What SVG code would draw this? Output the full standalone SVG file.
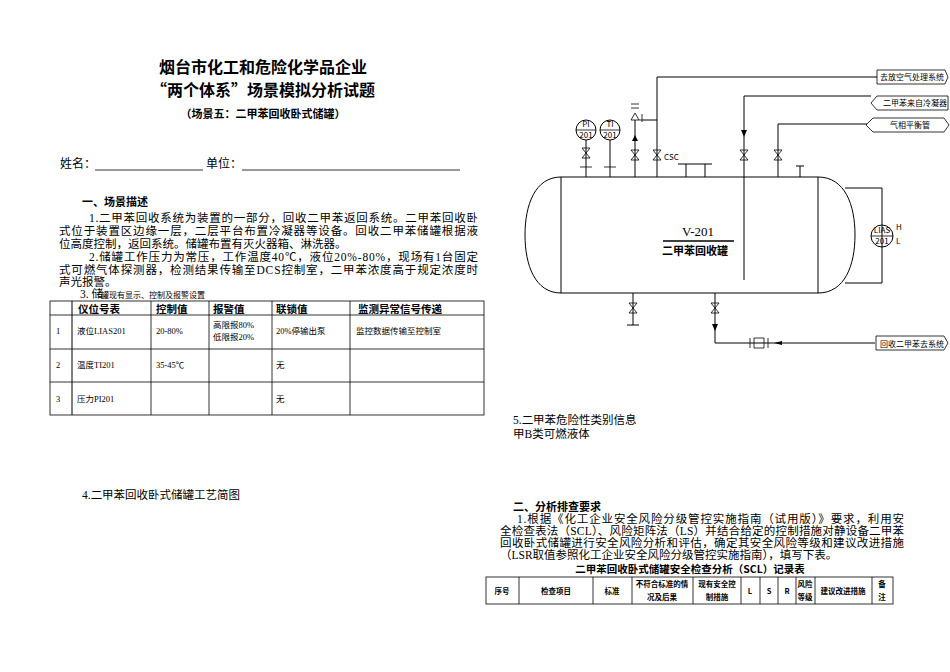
<svg xmlns="http://www.w3.org/2000/svg" width="950" height="672" viewBox="0 0 950 672">
<style>
text{font-family:"Liberation Serif","Noto Sans CJK SC",serif;fill:#000}
.h{font-family:"Noto Sans CJK SC",sans-serif;font-weight:bold}
.b{font-size:11.5px}
.s{font-size:8px}
.l{stroke:#000;fill:none;stroke-width:1}
.t{stroke:#000;fill:none;stroke-width:0.8}
.d{font-family:"Noto Sans CJK SC",sans-serif;font-size:8px}
</style>
<rect width="950" height="672" fill="#fff"/>
<g id="header">
<text class="h" x="263" y="73" font-size="16" text-anchor="middle">烟台市化工和危险化学品企业</text>
<text class="h" x="263" y="96" font-size="16" text-anchor="middle">“两个体系”场景模拟分析试题</text>
<text class="h" x="263" y="118" font-size="11" text-anchor="middle">（场景五：二甲苯回收卧式储罐）</text>
<text x="60" y="168" font-size="12">姓名：</text>
<line class="t" x1="95" y1="170" x2="203" y2="170"/>
<text x="206" y="168" font-size="12">单位：</text>
<line class="t" x1="242" y1="170" x2="460" y2="170"/>
</g>
<g id="sec1">
<text class="h" x="82" y="206" font-size="11">一、场景描述</text>
<text class="b" x="89" y="222" textLength="389" lengthAdjust="spacing">1.二甲苯回收系统为装置的一部分，回收二甲苯返回系统。二甲苯回收卧</text>
<text class="b" x="59" y="235" textLength="419" lengthAdjust="spacing">式位于装置区边缘一层，二层平台布置冷凝器等设备。回收二甲苯储罐根据液</text>
<text class="b" x="59" y="248">位高度控制，返回系统。储罐布置有灭火器箱、淋洗器。</text>
<text class="b" x="89" y="261" textLength="389" lengthAdjust="spacing">2.储罐工作压力为常压，工作温度40℃，液位20%-80%，现场有1台固定</text>
<text class="b" x="59" y="274" textLength="419" lengthAdjust="spacing">式可燃气体探测器，检测结果传输至DCS控制室，二甲苯浓度高于规定浓度时</text>
<text class="b" x="59" y="286">声光报警。</text>
<text class="b" x="80" y="298">3. 储</text>
<text class="s" x="101" y="298">罐现有显示、控制及报警设置</text>
</g>
<g id="table1">
<rect class="t" x="50" y="301" width="434" height="114"/>
<line class="t" x1="50" y1="315" x2="484" y2="315"/>
<line class="t" x1="50" y1="349" x2="484" y2="349"/>
<line class="t" x1="50" y1="382" x2="484" y2="382"/>
<line class="l" x1="72" y1="301" x2="72" y2="415" stroke="#999" stroke-width="1.5"/>
<line class="t" x1="151" y1="301" x2="151" y2="415"/>
<line class="t" x1="209" y1="301" x2="209" y2="415"/>
<line class="t" x1="272" y1="301" x2="272" y2="415"/>
<line class="t" x1="350" y1="301" x2="350" y2="415"/>
<g font-size="10.5"><text class="h" x="78" y="313" font-size="10.5">仪位号表</text><text class="h" x="156" y="313" font-size="10.5">控制值</text><text class="h" x="213" y="313" font-size="10.5">报警值</text><text class="h" x="276" y="313" font-size="10.5">联锁值</text><text class="h" x="358" y="313" font-size="10.5">监测异常信号传递</text></g>
<g font-size="8.5"><text x="56" y="334">1</text><text x="77" y="334">液位LIAS201</text><text x="156" y="334">20-80%</text><text x="213" y="328">高限报80%</text><text x="213" y="340">低限报20%</text><text x="276" y="334">20%停输出泵</text><text x="356" y="334">监控数据传输至控制室</text>
<text x="56" y="368">2</text><text x="77" y="368">温度TI201</text><text x="156" y="368">35-45℃</text><text x="276" y="368">无</text>
<text x="56" y="402">3</text><text x="77" y="402">压力PI201</text><text x="276" y="402">无</text></g>
</g>
<g id="flowlabel"><text class="b" x="82" y="499">4.二甲苯回收卧式储罐工艺简图</text></g>
<g id="tank">
<path class="l" d="M561 177 H818 C845 177 855 205 855 235 C855 265 845 293 818 293 H561 C535 293 525 265 525 235 C525 205 535 177 561 177 Z"/>
<line class="l" x1="561" y1="177" x2="561" y2="293"/>
<line class="l" x1="818" y1="177" x2="818" y2="293"/>
<text x="682" y="236" font-family="Liberation Sans,sans-serif" font-size="13" fill="#555">V-201</text>
<line x1="663" y1="241" x2="734" y2="241" stroke="#000" stroke-width="1.5"/>
<text class="h" x="662" y="255" font-size="11">二甲苯回收罐</text>
</g>
<g id="instruments">
<line class="l" x1="586" y1="140" x2="586" y2="177"/><circle class="l" cx="586" cy="130" r="10"/><line class="t" x1="576" y1="130" x2="596" y2="130"/><text class="d" x="586" y="127" text-anchor="middle" font-size="5">PI</text><text class="d" x="586" y="138" text-anchor="middle" font-size="5">201</text>
<line class="l" x1="610" y1="140" x2="610" y2="177"/><circle class="l" cx="610" cy="130" r="10"/><line class="t" x1="600" y1="130" x2="620" y2="130"/><text class="d" x="610" y="127" text-anchor="middle" font-size="5">TI</text><text class="d" x="610" y="138" text-anchor="middle" font-size="5">201</text>
<line class="l" x1="882" y1="188" x2="882" y2="283"/><line class="l" x1="845" y1="188" x2="882" y2="188"/><line class="l" x1="845" y1="283" x2="882" y2="283"/>
<circle class="l" cx="882" cy="236" r="11" fill="#fff"/><line class="t" x1="871" y1="236" x2="893" y2="236"/><text class="d" x="882" y="233" text-anchor="middle" font-size="5">LIAS</text><text class="d" x="882" y="244" text-anchor="middle" font-size="5">201</text>
<text class="d" x="896" y="230" font-size="6">H</text><text class="d" x="896" y="244" font-size="6">L</text>
</g>
<g id="nozzles">
<g class="t"><path d="M582 148 L590 148 L582 158 L590 158 Z M580 167 H592"/><path d="M604 167 H616"/>
<path d="M631 150 L639 150 L631 160 L639 160 Z"/><path d="M653 150 L661 150 L653 160 L661 160 Z"/>
<path d="M740 150 L748 150 L740 160 L748 160 Z"/><path d="M774 150 L782 150 L774 160 L782 160 Z"/>
<path d="M629 303 L637 303 L629 313 L637 313 Z"/><path d="M711 303 L719 303 L711 313 L719 313 Z"/></g>
<line class="l" x1="635" y1="120" x2="635" y2="177"/><path class="t" d="M631 120 L639 120 L635 113 Z M639 120 L643 120 M642 114 V122 M631 108 H639 M631 104 H639"/>
<path d="M635 135 l-3 6 h6 z" fill="#000"/>
<line class="l" x1="657" y1="77" x2="657" y2="177"/><line class="l" x1="643" y1="120" x2="657" y2="120"/>
<text class="d" x="664" y="160" font-size="6">CSC</text>
<path class="l" d="M686 177 V164 M705 177 V164 M678 164 H712"/>
<line class="l" x1="744" y1="96" x2="744" y2="280"/><path d="M741 130 l3 7 3-7 z" fill="#000"/>
<line class="l" x1="778" y1="124" x2="778" y2="177"/>
<path class="l" d="M800 177 V166 M796 166 H804"/>
<path class="l" d="M633 293 V325 M627 325 H639"/>
<line class="l" x1="715" y1="293" x2="715" y2="343"/><path d="M712 324 l3 7 3-7 z" fill="#000"/>
</g>
<g id="connectors">
<path class="l" d="M657 77 H877 M744 96 H871 M778 124 H867 M715 343 H875"/>
<path class="t" d="M750 338 V348 M754 338 V348 M754 338 H764 V348 H754 M768 338 V348"/>
<path d="M774 343 l8 -2 v4 z" fill="#000"/>
</g>
<g id="labels">
<path class="t" d="M877 70 H945 L948 77 L945 84 H877 Z"/><text class="d" x="880" y="80" font-size="7.5">去放空气处理系统</text>
<path class="t" d="M877 96 L871 103 L877 110 H948 V96 Z"/><text class="d" x="883" y="106" font-size="7.5">二甲苯来自冷凝器</text>
<path class="t" d="M873 118 L866 125 L873 132 H944 L949 125 L944 118 Z"/><text class="d" x="890" y="128" font-size="7.5">气相平衡管</text>
<path class="t" d="M876 336 H944 L948 343 L944 350 H876 Z"/><text class="d" x="880" y="347" font-size="7.5">回收二甲苯去系统</text>
</g>
<g id="sec5">
<text class="b" x="513" y="424">5.二甲苯危险性类别信息</text>
<text class="b" x="513" y="438">甲B类可燃液体</text>
</g>
<g id="sec2">
<text class="h" x="513" y="511" font-size="11">二、分析排查要求</text>
<text class="b" x="517" y="523" textLength="387" lengthAdjust="spacing">1.根据《化工企业安全风险分级管控实施指南（试用版）》要求，利用安</text>
<text class="b" x="500" y="535" textLength="404" lengthAdjust="spacing">全检查表法（SCL）、风险矩阵法（LS）并结合给定的控制措施对静设备二甲苯</text>
<text class="b" x="500" y="547" textLength="404" lengthAdjust="spacing">回收卧式储罐进行安全风险分析和评估，确定其安全风险等级和建议改进措施</text>
<text class="b" x="500" y="559">（LSR取值参照化工企业安全风险分级管控实施指南），填写下表。</text>
<text class="h" x="690" y="573" font-size="10.5" text-anchor="middle">二甲苯回收卧式储罐安全检查分析（SCL）记录表</text>
</g>
<g id="table2">
<rect class="t" x="486" y="577" width="407" height="27"/>
<g class="t"><path d="M519 577 V604 M593 577 V604 M632 577 V604 M693 577 V604 M741 577 V604 M760 577 V604 M778 577 V604 M796 577 V604 M815 577 V604 M872 577 V604"/></g>
<g font-size="7.5">
<text class="h" x="502" y="594" font-size="7.5" text-anchor="middle">序号</text>
<text class="h" x="556" y="594" font-size="7.5" text-anchor="middle">检查项目</text>
<text class="h" x="612" y="594" font-size="7.5" text-anchor="middle">标准</text>
<text class="h" x="662" y="587" font-size="7.5" text-anchor="middle">不符合标准的情</text>
<text class="h" x="662" y="600" font-size="7.5" text-anchor="middle">况及后果</text>
<text class="h" x="717" y="587" font-size="7.5" text-anchor="middle">现有安全控</text>
<text class="h" x="717" y="600" font-size="7.5" text-anchor="middle">制措施</text>
<text class="h" x="750" y="594" font-size="7.5" text-anchor="middle">L</text>
<text class="h" x="769" y="594" font-size="7.5" text-anchor="middle">S</text>
<text class="h" x="787" y="594" font-size="7.5" text-anchor="middle">R</text>
<text class="h" x="805" y="587" font-size="7.5" text-anchor="middle">风险</text>
<text class="h" x="805" y="600" font-size="7.5" text-anchor="middle">等级</text>
<text class="h" x="843" y="594" font-size="7.5" text-anchor="middle">建议改进措施</text>
<text class="h" x="882" y="587" font-size="7.5" text-anchor="middle">备</text>
<text class="h" x="882" y="600" font-size="7.5" text-anchor="middle">注</text>
</g>
</g>
</svg>
